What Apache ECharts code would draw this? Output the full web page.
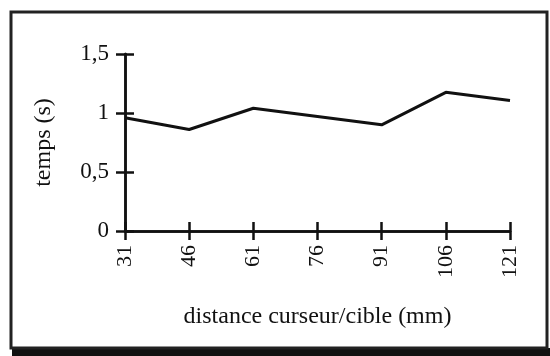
<!DOCTYPE html>
<html>
<head>
<meta charset="utf-8">
<script src="https://cdn.jsdelivr.net/npm/echarts@6/dist/echarts.min.js"></script>
<style>
  html, body { margin: 0; padding: 0; background: #fff; }
  #chartmain_line { width: 550px; height: 356px; }
</style>
</head>
<body>
<div id="chartmain_line"></div>
<script>
// 数据
const distances = ['31', '46', '61', '76', '91', '106', '121'];
const temps = [0.96, 0.86, 1.04, 0.97, 0.90, 1.175, 1.105];
const yTicks = [0, 0.5, 1, 1.5];

{
    const DOM = {
        line: document.getElementById('chartmain_line')
    };
    const line = echarts.init(DOM.line);

    const serif = 'Liberation Serif';
    const ink = '#111';

    // 轴的通用样式
    const axisLine = { show: true, lineStyle: { color: ink, width: 2.5 } };
    const tickStyle = { color: ink, width: 2.5 };

    const option = {
        backgroundColor: '#fff',
        animation: false,
        grid: {
            left: 125,
            right: 40,
            top: 54,
            bottom: 125
        },
        graphic: [
            {
                type: 'rect',
                shape: { x: 12, y: 348, width: 538, height: 8 },
                style: { fill: '#111' },
                z: 0
            },
            {
                type: 'rect',
                shape: { x: 11, y: 12, width: 536, height: 336 },
                style: { fill: 'none', stroke: '#222', lineWidth: 3 },
                z: 1
            }
        ],
        xAxis: [
            {
                type: 'category',
                position: 'bottom',
                boundaryGap: false,
                data: distances,
                axisLine: axisLine,
                axisTick: { show: true, inside: false, length: 9, lineStyle: tickStyle },
                axisLabel: {
                    rotate: 90,
                    margin: 14,
                    color: ink,
                    fontFamily: serif,
                    fontSize: 22
                },
                name: 'distance curseur/cible (mm)',
                nameLocation: 'middle',
                nameGap: 74,
                nameTextStyle: { color: ink, fontFamily: serif, fontSize: 24 }
            },
            {
                type: 'category',
                position: 'bottom',
                boundaryGap: false,
                data: distances,
                axisLine: axisLine,
                axisTick: { show: true, inside: true, length: 9, lineStyle: tickStyle },
                axisLabel: { show: false }
            }
        ],
        yAxis: [
            {
                type: 'value',
                position: 'left',
                min: yTicks[0],
                max: yTicks[yTicks.length - 1],
                interval: yTicks[1] - yTicks[0],
                splitLine: { show: false },
                axisLine: axisLine,
                axisTick: { show: true, inside: false, length: 9, lineStyle: tickStyle },
                axisLabel: {
                    margin: 16,
                    color: ink,
                    fontFamily: serif,
                    fontSize: 23,
                    formatter: function (v) { return String(v).replace('.', ','); }
                },
                name: 'temps (s)',
                nameLocation: 'middle',
                nameGap: 69,
                nameTextStyle: { color: ink, fontFamily: serif, fontSize: 24 }
            },
            {
                type: 'value',
                position: 'left',
                min: yTicks[0],
                max: yTicks[yTicks.length - 1],
                interval: yTicks[1] - yTicks[0],
                splitLine: { show: false },
                axisLine: axisLine,
                axisTick: { show: true, inside: true, length: 9, lineStyle: tickStyle },
                axisLabel: { show: false }
            }
        ],
        series: [
            {
                type: 'line',
                xAxisIndex: 0,
                yAxisIndex: 0,
                data: temps,
                showSymbol: false,
                lineStyle: { color: ink, width: 3 },
                z: 3
            }
        ]
    };

    function init() {
        line.setOption(option);
        window.addEventListener('resize', function () {
            line.resize();
        });
    }

    init();
}
</script>
</body>
</html>
